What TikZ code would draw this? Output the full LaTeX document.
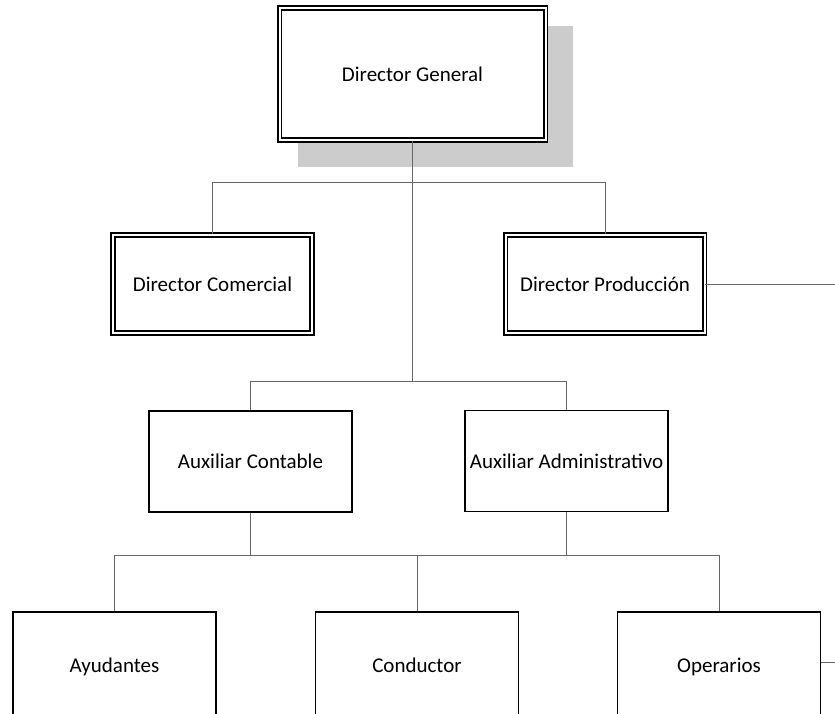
\documentclass[tikz,border=0pt]{standalone}
\usepackage{fontspec}
\setmainfont{Carlito}
\usetikzlibrary{backgrounds}
\begin{document}
\begin{tikzpicture}[x=1pt,y=-1pt,font=\fontsize{21}{25}\selectfont,
	every node/.style={text height=16pt,text depth=2pt},
	dbox/.style={draw,double,double distance=2pt,line width=1.8pt,fill=white,inner sep=0pt,minimum width=199pt,minimum height=98pt},
	sbox/.style={draw,line width=1.8pt,fill=white,inner sep=0pt,minimum width=203pt,minimum height=101pt},
	conn/.style={draw=black!60,line width=1pt}]
\useasboundingbox (0,0) rectangle (835,713);
\clip (0,0) rectangle (835,713);

\node[dbox,minimum width=266pt,minimum height=132pt] (dg) at (412.5,74) {Director General};
\node[dbox] (dc) at (212.5,284) {Director Comercial};
\node[dbox] (dp) at (605,284) {Director Producción};
\node[sbox] (ac) at (250.5,461.5) {Auxiliar Contable};
\node[sbox] (aa) at (566.5,461) {Auxiliar Administrativo};
\node[sbox,minimum height=106pt] (ay) at (114.5,665) {Ayudantes};
\node[sbox,minimum height=106pt] (co) at (417,665) {Conductor};
\node[sbox,minimum height=106pt] (op) at (719,665) {Operarios};

\begin{scope}[on background layer]
\fill[black!20] ([shift={(19,19)}]dg.north west) rectangle ([shift={(27,26)}]dg.south east);
\end{scope}

\path (dg.south) ++(0,42) coordinate (b1) ++(0,199) coordinate (b2);
\coordinate (b3) at (417,555);
\coordinate (e1) at (840,284);
\coordinate (e2) at (840,662);

\draw[conn] (dg.south) -- (b2);
\draw[conn] (b1) -| (dc.north);
\draw[conn] (b1) -| (dp.north);
\draw[conn] (b2) -| (ac.north);
\draw[conn] (b2) -| (aa.north);
\draw[conn] (ac.south) |- (b3);
\draw[conn] (aa.south) |- (b3);
\draw[conn] (b3) -| (ay.north);
\draw[conn] (b3) -- (co.north);
\draw[conn] (b3) -| (op.north);
\draw[conn] (dp.east) -- (e1);
\draw[conn] (op.east |- e2) -- (e2);
\end{tikzpicture}
\end{document}
